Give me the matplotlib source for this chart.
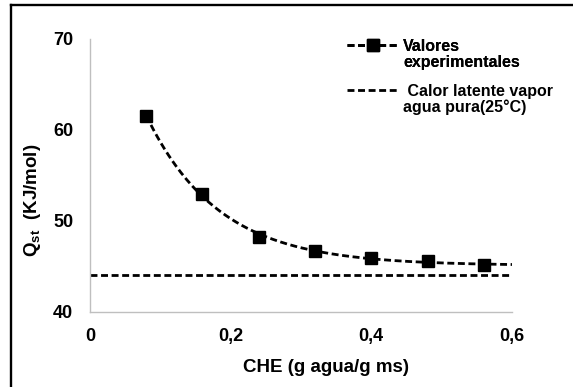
import numpy as np
import matplotlib
matplotlib.use("Agg")
import matplotlib.pyplot as plt
from matplotlib.lines import Line2D

plt.rcParams['font.family'] = ['Liberation Sans', 'DejaVu Sans']
plt.rcParams['font.weight'] = 'bold'
plt.rcParams['mathtext.fontset'] = 'custom'
plt.rcParams['mathtext.rm'] = 'Liberation Sans:bold'
plt.rcParams['mathtext.it'] = 'Liberation Sans:bold'
plt.rcParams['mathtext.bf'] = 'Liberation Sans:bold'

# data
che = [0.08, 0.16, 0.24, 0.32, 0.40, 0.48, 0.56]
qst = [61.5, 52.9, 48.2, 46.7, 45.9, 45.6, 45.1]
calor_latente = 44.0
xticks = [0, 0.2, 0.4, 0.6]
xtick_labels = ['0', '0,2', '0,4', '0,6']
yticks = [40, 50, 60, 70]

# trend line: y = a + b*exp(-c*x), least squares with a grid over c
x = np.array(che)
y = np.array(qst)
best = None
for c in np.linspace(1, 40, 400):
    A = np.column_stack([np.ones_like(x), np.exp(-c * x)])
    coef, res, _, _ = np.linalg.lstsq(A, y, rcond=None)
    err = np.sum((A @ coef - y) ** 2)
    if best is None or err < best[0]:
        best = (err, c, coef)
_, c_fit, (a_fit, b_fit) = best
xs = np.linspace(che[0], 0.6, 200)
ys = a_fit + b_fit * np.exp(-c_fit * xs)

fig = plt.figure(figsize=(5.73, 3.87), dpi=100)
ax = fig.add_axes([0.157, 0.1946, 0.7365, 0.7059])

dash = (2.5, 1.3)
lw = 2.0
ax.plot(xs, ys, color='black', lw=lw, dashes=dash)
ax.plot(che, qst, 's', color='black', markersize=8)
ax.plot([0, 0.6], [calor_latente, calor_latente], color='black', lw=lw, dashes=dash)

ax.set_xlim(0, 0.6)
ax.set_ylim(40, 70)
ax.set_xticks(xticks)
ax.set_xticklabels(xtick_labels)
ax.set_yticks(yticks)
ax.tick_params(length=0, labelsize=13, pad=12)
for s in ['top', 'right']:
    ax.spines[s].set_visible(False)
for s in ['left', 'bottom']:
    ax.spines[s].set_color('#bfbfbf')
    ax.spines[s].set_linewidth(1.0)

ax.set_xlabel('CHE (g agua/g ms)', fontsize=13.5, fontweight='bold')
ax.xaxis.set_label_coords(0.559, -0.206)
ax.xaxis.label.set_va('center')
ax.set_ylabel(r'$\mathregular{Q_{st}}$  (KJ/mol)', fontsize=13.5, fontweight='bold')
ax.yaxis.set_label_coords(-0.135, 0.407)
ax.yaxis.label.set_va('center')

# legend: handle sits on the first line of each two-line label
h1 = Line2D([], [], color='black', lw=lw, dashes=dash, marker='s', markersize=8)
h2 = Line2D([], [], color='black', lw=lw, dashes=dash)
blank = Line2D([], [], linestyle='None')
leg_kw = dict(loc='upper left', frameon=False, fontsize=11.5, handlelength=3.2,
              handletextpad=0.3, borderpad=0, borderaxespad=0, labelspacing=0.05)
leg1 = fig.legend([h1, blank], ['Valores', 'experimentales'],
                  bbox_to_anchor=(0.6056, 0.899), **leg_kw)
fig.add_artist(leg1)
fig.legend([h2, blank], [' Calor latente vapor', 'agua pura(25°C)'],
           bbox_to_anchor=(0.6056, 0.783), **leg_kw)

# outer frame (left and top edges visible)
fig.add_artist(Line2D([0.0192, 0.0192], [0, 0.9858], color='black', lw=1.7,
                      transform=fig.transFigure))
fig.add_artist(Line2D([0.0192, 1], [0.9858, 0.9858], color='black', lw=1.7,
                      transform=fig.transFigure))

fig.savefig('out.png', dpi=100)
